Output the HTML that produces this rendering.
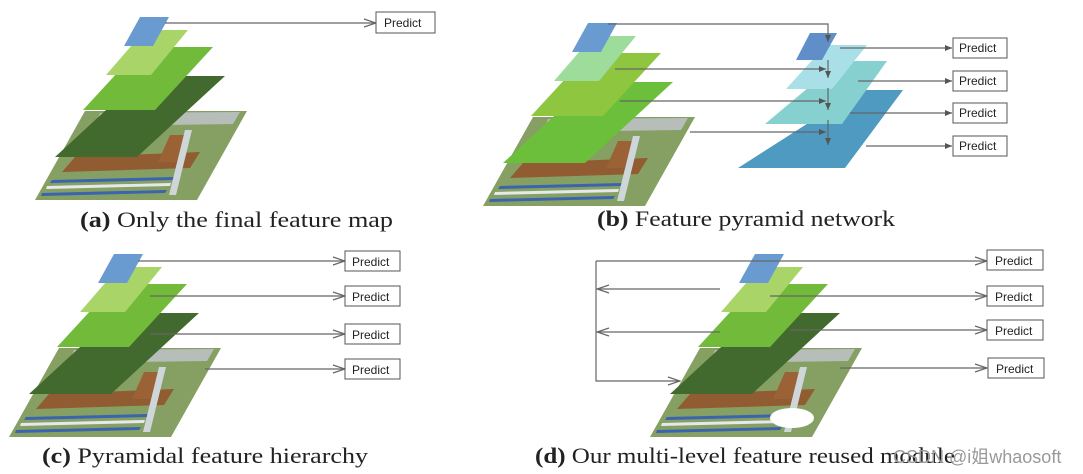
<!DOCTYPE html>
<html><head><meta charset="utf-8"><style>
html,body{margin:0;padding:0;background:#fff;}
svg{display:block;}
text{font-family:"Liberation Sans",sans-serif;}
.cap{font-family:"Liberation Serif",serif;font-size:22px;fill:#222;}
.pb{fill:#fff;stroke:#555;stroke-width:1;}
.pt{font-size:12px;fill:#222;}
.ln{stroke:#666;stroke-width:1.2;fill:none;}
</style></head><body>
<svg width="1083" height="474" viewBox="0 0 1083 474" xmlns="http://www.w3.org/2000/svg">
<defs>
<marker id="ar" markerWidth="14" markerHeight="10" refX="13" refY="5" orient="auto" markerUnits="userSpaceOnUse">
<path d="M1,1 L13,5 L1,9" fill="none" stroke="#666" stroke-width="1.2"/></marker>
<marker id="af" markerWidth="8" markerHeight="8" refX="7" refY="4" orient="auto" markerUnits="userSpaceOnUse">
<path d="M0,1 L7,4 L0,7 z" fill="#555"/></marker>
<g id="img">
<polygon points="85,111 247,111 197,200 35,200" fill="#86a064"/>
<polygon points="100,113 240,112 233,124 95,126" fill="#b7bdb8"/>
<polygon points="75,157 200,152 190,168 62,172" fill="#915c32"/>
<polygon points="170,135 188,135 176,162 158,162" fill="#9a6235"/>
<polygon points="52,180 175,177 173,180 50,183" fill="#3a63b0"/>
<polygon points="47,186 171,183 170,186 46,189" fill="#e6e9ec"/>
<polygon points="42,193 167,190 165,193 41,196" fill="#3a63b0"/>
<polygon points="185,130 192,130 176,195 169,195" fill="#cfd6da"/>
</g>
<g id="stackA">
<use href="#img"/>
<polygon points="143,76 225,76 137,157 55,157" fill="#436a2e"/>
<polygon points="141,47 213,47 155,110 83,110" fill="#72bb3a"/>
<polygon points="145,30 188,30 151,75 106,75" fill="#a8d468"/>
<polygon points="140,17 169,17 153,46 124,46" fill="#6a9bd0"/>
</g>
</defs>

<!-- (a) -->
<use href="#stackA"/>
<line class="ln" x1="165" y1="23" x2="376" y2="23" marker-end="url(#ar)"/>
<rect class="pb" x="376" y="12" width="59" height="21"/><text class="pt" x="384" y="27">Predict</text>
<text class="cap" x="80" y="227" textLength="313" lengthAdjust="spacingAndGlyphs"><tspan font-weight="bold">(a)</tspan> Only the final feature map</text>

<!-- (b) left stack -->
<g transform="translate(448,6)">
<use href="#img"/>
<polygon points="143,76 225,76 137,157 55,157" fill="#6cbf3a"/>
<polygon points="141,47 213,47 155,110 83,110" fill="#8ec63f"/>
<polygon points="145,30 188,30 151,75 106,75" fill="#9edc9b"/>
<polygon points="140,17 169,17 153,46 124,46" fill="#6a9bd0"/>
</g>
<!-- (b) right pyramid -->
<polygon points="860,90 903,90 845,168 738,168" fill="#4e9ac0"/>
<polygon points="840,61 887,61 842,124 765,124" fill="#86d0d0"/>
<polygon points="826,45 867,45 832,89 786,89" fill="#a9e0e8"/>
<polygon points="810,33 837,33 822,60 796,60" fill="#5f8ec8"/>
<polyline class="ln" points="608,24 828,24 828,42" marker-end="url(#af)"/>
<line class="ln" x1="828" y1="60" x2="828" y2="78" marker-end="url(#af)"/>
<line class="ln" x1="828" y1="88" x2="828" y2="110" marker-end="url(#af)"/>
<line class="ln" x1="828" y1="120" x2="828" y2="145" marker-end="url(#af)"/>
<line class="ln" x1="615" y1="69" x2="826" y2="69" marker-end="url(#af)"/>
<line class="ln" x1="620" y1="101" x2="826" y2="101" marker-end="url(#af)"/>
<line class="ln" x1="690" y1="132" x2="826" y2="132" marker-end="url(#af)"/>
<line class="ln" x1="840" y1="48" x2="952" y2="48" marker-end="url(#af)"/>
<line class="ln" x1="858" y1="81" x2="952" y2="81" marker-end="url(#af)"/>
<line class="ln" x1="850" y1="113" x2="952" y2="113" marker-end="url(#af)"/>
<line class="ln" x1="866" y1="146" x2="952" y2="146" marker-end="url(#af)"/>
<rect class="pb" x="953" y="38" width="54" height="20"/><text class="pt" x="959" y="52">Predict</text>
<rect class="pb" x="953" y="71" width="54" height="20"/><text class="pt" x="959" y="85">Predict</text>
<rect class="pb" x="953" y="103" width="54" height="20"/><text class="pt" x="959" y="117">Predict</text>
<rect class="pb" x="953" y="136" width="54" height="20"/><text class="pt" x="959" y="150">Predict</text>
<text class="cap" x="597" y="226" textLength="298" lengthAdjust="spacingAndGlyphs"><tspan font-weight="bold">(b)</tspan> Feature pyramid network</text>

<!-- (c) -->
<g transform="translate(-26,237)"><use href="#stackA"/></g>
<line class="ln" x1="138" y1="261" x2="345" y2="261" marker-end="url(#ar)"/>
<line class="ln" x1="150" y1="296" x2="345" y2="296" marker-end="url(#ar)"/>
<line class="ln" x1="150" y1="334" x2="345" y2="334" marker-end="url(#ar)"/>
<line class="ln" x1="205" y1="369" x2="345" y2="369" marker-end="url(#ar)"/>
<rect class="pb" x="345" y="251" width="55" height="20"/><text class="pt" x="352" y="266">Predict</text>
<rect class="pb" x="345" y="286" width="55" height="20"/><text class="pt" x="352" y="301">Predict</text>
<rect class="pb" x="345" y="324" width="55" height="20"/><text class="pt" x="352" y="339">Predict</text>
<rect class="pb" x="345" y="359" width="55" height="20"/><text class="pt" x="352" y="374">Predict</text>
<text class="cap" x="42" y="463" textLength="326" lengthAdjust="spacingAndGlyphs"><tspan font-weight="bold">(c)</tspan> Pyramidal feature hierarchy</text>

<!-- (d) -->
<g transform="translate(615,237)"><use href="#stackA"/></g>
<polyline class="ln" points="596,261 596,381 680,381" marker-end="url(#ar)"/>
<line class="ln" x1="596" y1="261" x2="987" y2="261" marker-end="url(#ar)"/>
<line class="ln" x1="720" y1="289" x2="597" y2="289" marker-end="url(#ar)"/>
<line class="ln" x1="720" y1="332" x2="597" y2="332" marker-end="url(#ar)"/>
<line class="ln" x1="770" y1="296" x2="987" y2="296" marker-end="url(#ar)"/>
<line class="ln" x1="790" y1="330" x2="987" y2="330" marker-end="url(#ar)"/>
<line class="ln" x1="840" y1="368" x2="987" y2="368" marker-end="url(#ar)"/>
<rect class="pb" x="987" y="250" width="56" height="20"/><text class="pt" x="995" y="265">Predict</text>
<rect class="pb" x="987" y="286" width="56" height="20"/><text class="pt" x="995" y="301">Predict</text>
<rect class="pb" x="987" y="320" width="56" height="20"/><text class="pt" x="995" y="335">Predict</text>
<rect class="pb" x="988" y="358" width="56" height="20"/><text class="pt" x="996" y="373">Predict</text>
<ellipse cx="792" cy="418" rx="22" ry="10" fill="#fff"/>
<text class="cap" x="535" y="463" textLength="420" lengthAdjust="spacingAndGlyphs"><tspan font-weight="bold">(d)</tspan> Our multi-level feature reused module</text>
<text x="893" y="463" font-size="18" fill="#999" font-family="'Liberation Sans','Noto Sans CJK SC',sans-serif">CSDN @i姐whaosoft</text>
</svg>
</body></html>
